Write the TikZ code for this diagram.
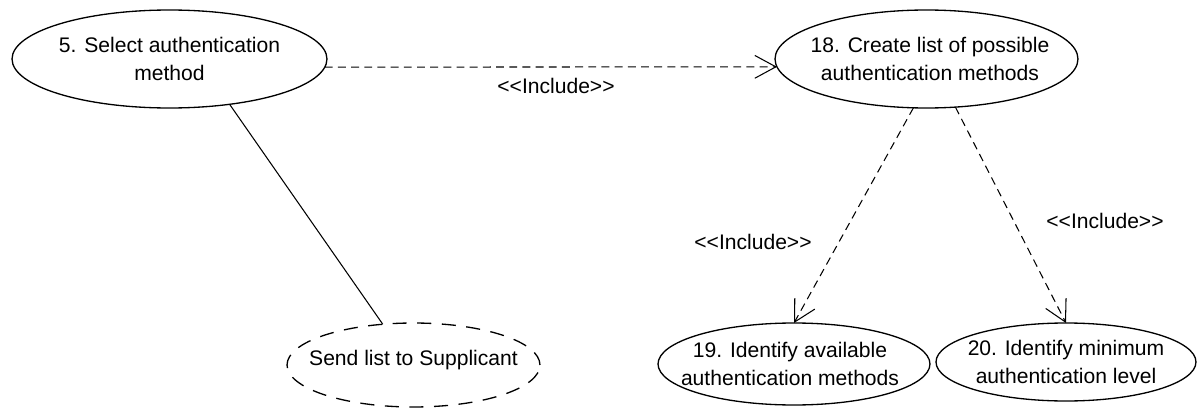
\documentclass[tikz,border=0pt]{standalone}
\usepackage{fontspec}
\setmainfont{Liberation Sans}[Ligatures=TeXOff]
\usetikzlibrary{shapes.geometric,arrows.meta}
\begin{document}
\begin{tikzpicture}[x=0.02cm,y=-0.02cm,
  usecase/.style={draw, ellipse, line width=0.75pt, inner sep=0pt, outer sep=0pt},
  uctext/.style={font=\fontsize{12}{15.9}\selectfont, align=center, inner sep=0pt},
  stereo/.style={font=\fontsize{12}{14}\selectfont, inner sep=0pt},
  include/.style={line width=0.6pt, dash pattern=on 4.5pt off 3pt,
    -{Straight Barb[length=12pt,width=13pt]}},
  assoc/.style={line width=0.6pt}]
\useasboundingbox (0,0) rectangle (1198,409);

% use cases
\node[usecase, minimum width=6.30cm, minimum height=1.96cm,
  label={[uctext]center:{5. Select authentication\\method}}] (n5) at (169.5,59) {};
\node[usecase, minimum width=6.06cm, minimum height=1.96cm,
  label={[uctext, xshift=0.07cm]center:{18. Create list of possible\\authentication methods}}] (n18) at (926.5,59) {};
\node[usecase, dash pattern=on 8pt off 6pt, minimum width=5.06cm, minimum height=1.68cm,
  label={[uctext, yshift=0.1cm]center:{Send list to Supplicant}}] (send) at (413.5,365) {};
\node[usecase, minimum width=5.44cm, minimum height=1.64cm,
  label={[uctext, xshift=-0.08cm]center:{19. Identify available\\authentication methods}}] (n19) at (794,364) {};
\node[usecase, minimum width=5.20cm, minimum height=1.56cm,
  label={[uctext]center:{20. Identify minimum\\authentication level}}] (n20) at (1066,362) {};

% include relations
\draw[include] (n5.-3.7) -- (n18.183.1);
\draw[include] (n18.-105.5) -- (n19.north);
\draw[include] (n18.-59.4) -- (n20.north);

\node[stereo] (inc1) at (556,86) {<<Include>>};
\node[stereo] (inc2) at (753,242) {<<Include>>};
\node[stereo] (inc3) at (1105,221) {<<Include>>};

% association
\draw[assoc] (n5.-37.9) -- (send.127.7);
\end{tikzpicture}
\end{document}
